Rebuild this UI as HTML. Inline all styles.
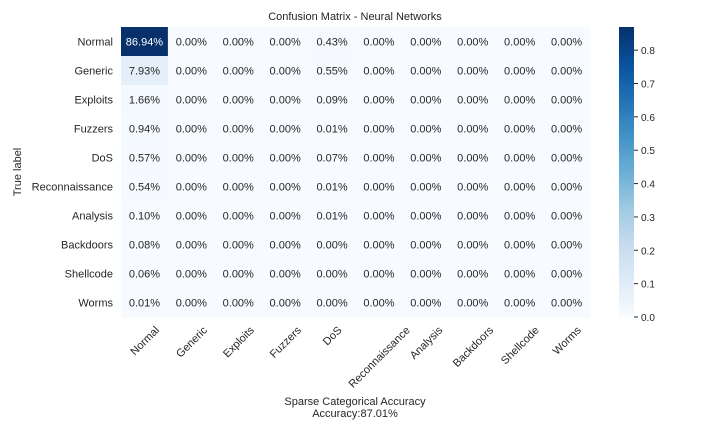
<!DOCTYPE html>
<html><head><meta charset="utf-8"><style>
body{margin:0;background:#fff;}
text{font-family:"Liberation Sans",Arial,sans-serif;fill:#262626;}
</style></head><body>
<svg id="c" width="720" height="432" xmlns="http://www.w3.org/2000/svg">
<text x="355" y="20" font-size="11" text-anchor="middle">Confusion Matrix - Neural Networks</text>
<text transform="translate(21,172) rotate(-90)" font-size="11" text-anchor="middle">True label</text>
<text x="355" y="405" font-size="11" text-anchor="middle">Sparse Categorical Accuracy</text>
<text x="355" y="417" font-size="11" text-anchor="middle">Accuracy:87.01%</text>
<g id="cells"></g>
<defs><linearGradient id="cg" x1="0" y1="1" x2="0" y2="0"></linearGradient></defs>
<g id="cbar"></g>
</svg>
<script>
const labels=["Normal","Generic","Exploits","Fuzzers","DoS","Reconnaissance","Analysis","Backdoors","Shellcode","Worms"];
const col0=[0.8694,0.0793,0.0166,0.0094,0.0057,0.0054,0.0010,0.0008,0.0006,0.0001];
const col4=[0.0043,0.0055,0.0009,0.0001,0.0007,0.0001,0.0001,0.0000,0.0000,0.0000];
const cbTicks=[0.0,0.1,0.2,0.3,0.4,0.5,0.6,0.7,0.8];
const vmax=0.8694;
const L=121,T=27,R=590,B=317,n=10,cw=(R-L)/n,ch=(B-T)/n;
const blues=[[247,251,255],[222,235,247],[198,219,239],[158,202,225],[107,174,214],[66,146,198],[33,113,181],[8,81,156],[8,48,107]];
function color(v){let t=Math.max(0,Math.min(1,v/vmax))*(blues.length-1);let i=Math.min(Math.floor(t),blues.length-2),f=t-i;
const c=blues[i].map((a,k)=>Math.round(a+(blues[i+1][k]-a)*f));return `rgb(${c})`;}
const NS="http://www.w3.org/2000/svg";
const svg=document.getElementById('c'),g=document.getElementById('cells'),cb=document.getElementById('cbar');
function mk(tag,at,parent){const e=document.createElementNS(NS,tag);for(const k in at)e.setAttribute(k,at[k]);(parent||svg).appendChild(e);return e;}
for(let r=0;r<n;r++){for(let c=0;c<n;c++){
 const v=c===0?col0[r]:(c===4?col4[r]:0);
 const rect=mk('rect',{x:L+c*cw,y:T+r*ch,width:cw+0.5,height:ch+0.5,fill:color(v)},g);
 
 
 const t=mk('text',{x:L+c*cw+cw/2,y:T+r*ch+ch/2+4,'font-size':'11','text-anchor':'middle'},g);
 t.textContent=(v*100).toFixed(2)+'%';
 if(v/vmax>0.5)t.style.fill='#fff';
 
 
}}
labels.forEach((lb,i)=>{
 const t=mk('text',{x:L-8,y:T+i*ch+ch/2+4,'font-size':'11','text-anchor':'end'});
 t.textContent=lb;
 
 
 const cx=L+i*cw+cw/2;
 const u=mk('text',{'font-size':'11','text-anchor':'middle'});
 u.textContent=lb;
 
 
 const w=u.getComputedTextLength();
 const cy=B+6+(w/2)*0.7071+5;
 u.setAttribute('transform',`translate(${cx},${cy}) rotate(-45) translate(0,4)`);
});
const grad=document.getElementById('cg');
blues.forEach((c,i)=>mk('stop',{offset:(i/(blues.length-1)),'stop-color':`rgb(${c})`},grad));
const CX=619,CW=15;
const bar=mk('rect',{x:CX,y:T,width:CW,height:B-T,fill:'url(#cg)'},cb);


cbTicks.forEach(v=>{
 const y=B-(v/vmax)*(B-T);
 mk('line',{x1:CX+CW,x2:CX+CW+4,y1:y,y2:y,stroke:'#262626','stroke-width':1},cb);
 const t=mk('text',{x:CX+CW+7,y:y+4,'font-size':'10'},cb);
 t.textContent=v.toFixed(1);
 
 
});
</script>
</body></html>
